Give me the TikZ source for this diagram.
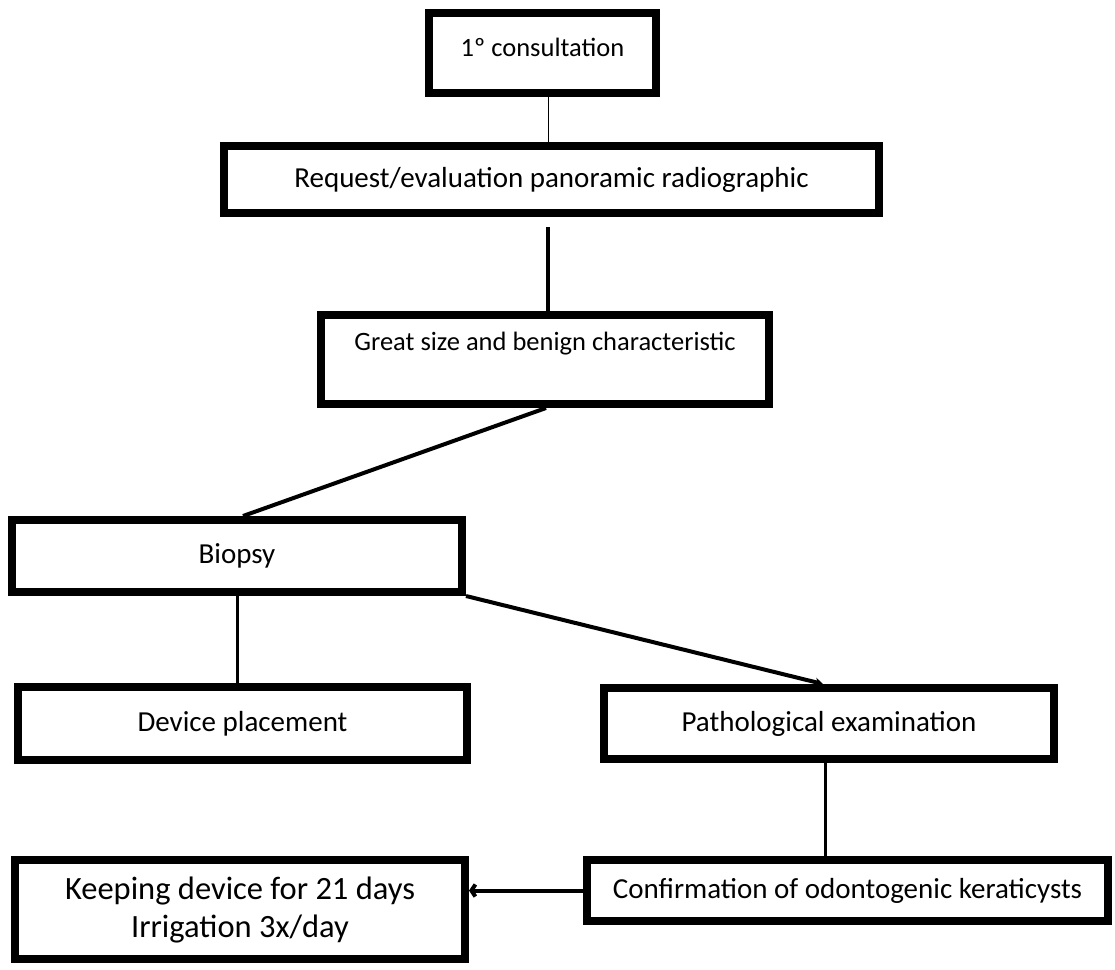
\documentclass[tikz,border=0pt]{standalone}
\usepackage{fontspec}
\setmainfont{Carlito}
\usetikzlibrary{positioning, calc}
\usetikzlibrary{arrows.meta}

\begin{document}
\begin{tikzpicture}[
    x=1pt, y=1pt,
    box/.style={rectangle, draw, line width=8pt, inner sep=0pt, align=center, font=\fontsize{29}{35}\selectfont},
    link/.style={line width=4pt},
    thinlink/.style={line width=1.5pt}
]
\useasboundingbox (0,0) rectangle (1115,-969);

% boxes of the flow
\node[box, minimum width=227pt, minimum height=80pt, text depth=12pt, font=\fontsize{26.5}{32}\selectfont] (consult) at (542.5,-53) {1º consultation};
\node[box, minimum width=655pt, minimum height=67pt] (request) at (551.5,-179.5) {Request/evaluation panoramic radiographic};
\node[box, minimum width=448pt, minimum height=89pt, text depth=36pt, font=\fontsize{26.5}{32}\selectfont] (great) at (545,-359.5) {Great size and benign characteristic};

\node[box, minimum width=450pt, minimum height=72pt] (biopsy) at (237,-556) {Biopsy};
\node[box, minimum width=449pt, minimum height=73pt] (device) at (242.5,-723.5) {Device placement};
\node[box, minimum width=450pt, minimum height=71pt] (patho) at (829,-723.5) {Pathological examination};

\node[box, minimum width=521pt, minimum height=61pt] (confirm) at (847.5,-890.5) {Confirmation of odontogenic keraticysts};
\node[box, minimum width=450pt, minimum height=99pt, font=\fontsize{32.5}{38}\selectfont] (keeping) at (240,-909.5) {Keeping device for 21 days\\Irrigation 3x/day};

% connectors
\draw[thinlink] ([xshift=6pt]consult.south) -- ([xshift=6pt]consult.south |- request.north);
\draw[link] ([xshift=3pt,yshift=-10pt]great.north |- request.south) -- ([xshift=3pt]great.north);
\draw[link] ([xshift=1pt]great.south) -- ([xshift=6pt]biopsy.north);
\draw[line width=3pt] (biopsy.south) -- (biopsy.south |- device.north);
\draw[link, -{Stealth[length=8pt, width=9pt]}] (biopsy.south east) -- ([xshift=-6pt]patho.north);
\draw[line width=3pt] ([xshift=-4pt]patho.south) -- ([xshift=-4pt]patho.south |- confirm.north);
\draw[link, -{Straight Barb[length=4pt, width=12pt]}] (confirm.west) -- (confirm.west -| keeping.east);

\end{tikzpicture}
\end{document}
